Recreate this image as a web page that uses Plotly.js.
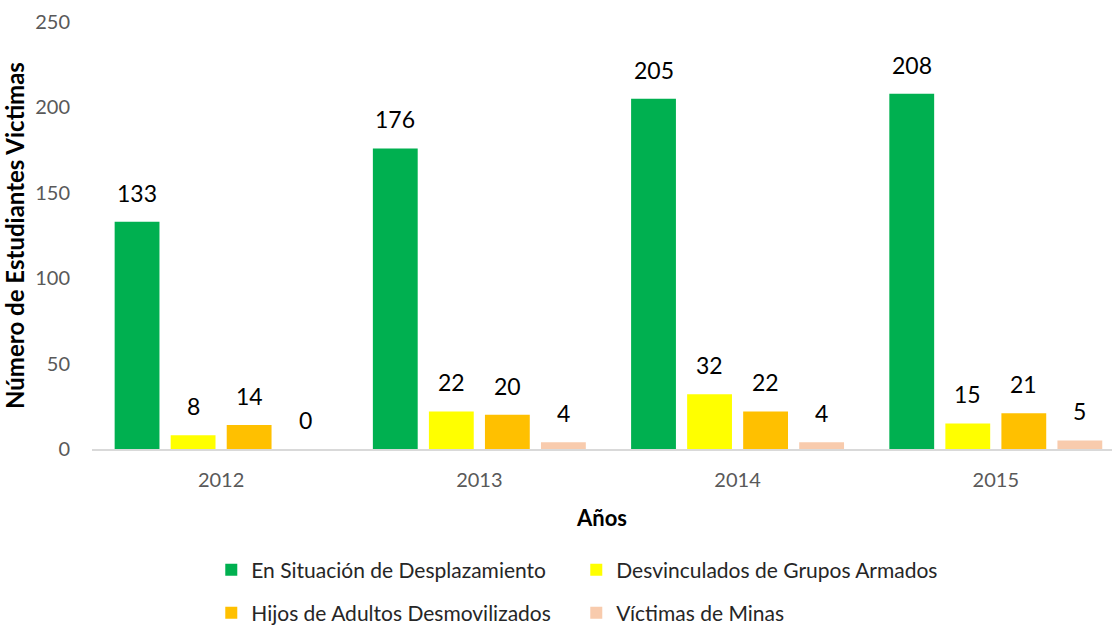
<!DOCTYPE html>
<html>
<head>
<meta charset="utf-8">
<script src="https://cdn.plot.ly/plotly-3.0.1.min.js"></script>
<style>html,body{margin:0;padding:0;background:#fff;}#chart{width:1112px;height:625px;}</style>
</head>
<body>
<div id="chart"></div>
<script>
const years = ['2012', '2013', '2014', '2015'];
const seriesNames = ['En Situación de Desplazamiento', 'Desvinculados de Grupos Armados', 'Hijos de Adultos Desmovilizados', 'Víctimas de Minas'];
const desplazamiento = [133, 176, 205, 208];
const desvinculados = [8, 22, 32, 15];
const hijos = [14, 20, 22, 21];
const minas = [0, 4, 4, 5];
const yTicks = [0, 50, 100, 150, 200, 250];

const allSeries = [desplazamiento, desvinculados, hijos, minas];
const colors = ['#00B050', '#FFFF00', '#FFC000', '#F8CBAD'];
const legends = ['legend', 'legend', 'legend2', 'legend2'];
const FONT = 'Lato, "Open Sans", sans-serif';

const bargap = 0.132;
const slot = (1 - bargap) / allSeries.length;

const traces = allSeries.map((vals, i) => ({
  type: 'bar',
  name: seriesNames[i],
  x: years,
  y: vals,
  marker: {color: colors[i]},
  legend: legends[i],
  hoverinfo: 'x+y+name'
}));

const annotations = [];
allSeries.forEach((vals, i) => {
  const off = -((1 - bargap) / 2) + slot * (i + 0.5);
  vals.forEach((v, j) => {
    annotations.push({
      xref: 'x', yref: 'y', x: j + off, y: v,
      text: String(v), showarrow: false,
      yanchor: 'bottom', yshift: 13,
      font: {family: FONT, size: 23, color: '#000'}
    });
  });
});

const legendBase = {
  orientation: 'h', xref: 'container', yref: 'container',
  x: 0.19, xanchor: 'left', yanchor: 'middle',
  entrywidth: 320, entrywidthmode: 'pixels',
  font: {size: 21, color: '#262626', family: FONT},
  bgcolor: 'rgba(0,0,0,0)'
};

const layout = {
  width: 1112, height: 625,
  margin: {l: 92, r: 0, t: 22, b: 176},
  paper_bgcolor: '#fff', plot_bgcolor: '#fff',
  barmode: 'group', bargap: bargap, bargroupgap: 0.2,
  font: {family: FONT, color: '#595959'},
  xaxis: {
    type: 'category', range: [-0.5, 3.45],
    showline: true, linecolor: '#D9D9D9', linewidth: 2,
    ticks: '', showgrid: false, zeroline: false,
    ticklabelstandoff: 12,
    tickfont: {size: 20, color: '#595959'},
    title: {text: '<b>Años</b>', font: {size: 22, color: '#000'}, standoff: 21}
  },
  yaxis: {
    range: [0, 250], tickvals: yTicks,
    showgrid: false, zeroline: false, showline: false, ticks: '',
    ticklabelstandoff: 21,
    tickfont: {size: 20, color: '#595959'},
    title: {text: '<b>Número de Estudiantes Victimas</b>', font: {size: 24, color: '#000'}, standoff: 6}
  },
  showlegend: true,
  legend: Object.assign({}, legendBase, {y: 1 - 570 / 625}),
  legend2: Object.assign({}, legendBase, {y: 1 - 613 / 625}),
  annotations: annotations
};

Plotly.newPlot('chart', traces, layout, {displayModeBar: false, staticPlot: true});
</script>
</body>
</html>
